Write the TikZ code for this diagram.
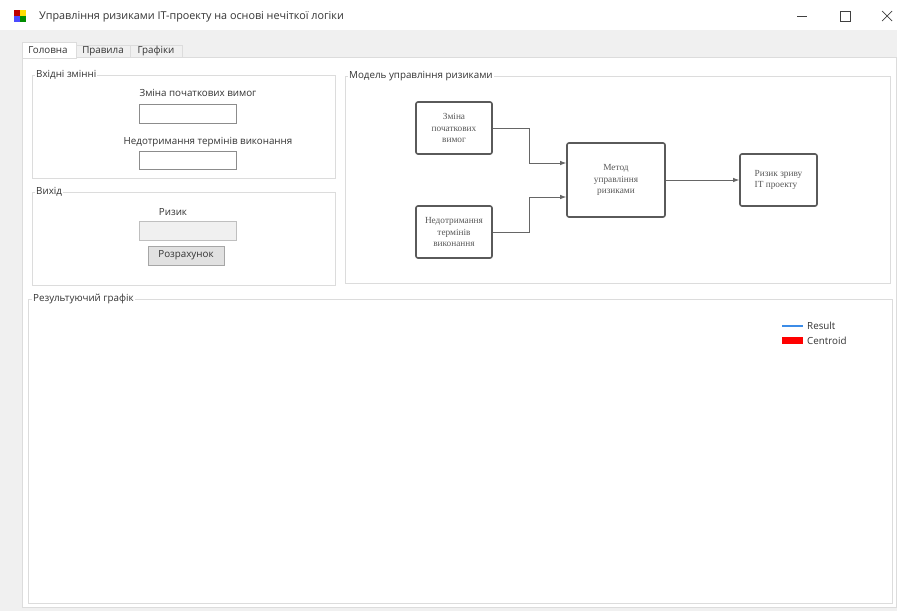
\documentclass[tikz,border=0pt]{standalone}
\usepackage{fontspec}
\setmainfont{Open Sans}
\newfontfamily\serifbox{Liberation Serif}
\usetikzlibrary{arrows.meta,calc}
\definecolor{formgray}{HTML}{F0F0F0}
\definecolor{framegray}{HTML}{DCDCDC}
\definecolor{boxline}{HTML}{5A5A5A}
\definecolor{resblue}{HTML}{3C8CE7}
\definecolor{btngray}{HTML}{E1E1E1}

\begin{document}
\begin{tikzpicture}[x=1pt, y=-1pt,
        ui/.style={font=\fontsize{9.8}{11}\selectfont, text=black!80, inner sep=0pt},
        grouplabel/.style={ui, fill=white, inner sep=1pt, anchor=west},
        groupframe/.style={draw=framegray, line width=0.8pt},
        tabhead/.style={draw=framegray, line width=0.6pt},
        textbox/.style={draw=black!45, fill=white, minimum width=97pt, minimum height=19pt, inner sep=0pt},
        block/.style={draw=boxline, line width=1.6pt, rounded corners=2pt, fill=white, align=center,
            text=black!65, font=\serifbox\fontsize{9.3}{11.5}\selectfont, inner sep=0pt},
        conn/.style={draw=black!60, line width=0.9pt, -{Latex[length=6pt,width=4.5pt]}},
        wctl/.style={draw=black!75, line width=0.7pt},
    ]
    \useasboundingbox (0,0) rectangle (897,611);
    \fill[white] (0,0) rectangle (897,30);
    \fill[formgray] (0,30) rectangle (897,611);

    % title bar
    \fill[red!75!black] (14,10) rectangle (20,16);
    \fill[yellow!80!orange] (20,10) rectangle (26,16);
    \fill[blue!70] (14,16) rectangle (20,22);
    \fill[green!55!black] (20,16) rectangle (26,22);
    \node[ui, font=\fontsize{10.8}{12}\selectfont, anchor=west] (title) at (39,17)
        {Управління ризиками IT-проекту на основі нечіткої логіки};
    \draw[wctl] (797,16) -- (807,16);
    \draw[wctl] (840,11) rectangle (850,21);
    \draw[wctl] (882,11) -- (892,21) (882,21) -- (892,11);

    % tabs
    \filldraw[fill=white, draw=framegray] (22,57) rectangle (896,607);
    \filldraw[tabhead, fill=formgray] (76,45) rectangle (130,57);
    \filldraw[tabhead, fill=formgray] (130,45) rectangle (182,57);
    \filldraw[tabhead, fill=white] (22,42) -- (22,58) -- (76,58) -- (76,42) -- cycle;
    \node[ui] (tmain) at (48,50) {Головна};
    \node[ui] (trules) at (103,51) {Правила};
    \node[ui] (tplots) at (156,51) {Графіки};

    % input variables
    \draw[groupframe] (32,75) rectangle (335,178);
    \node[grouplabel] (ginp) at (35,75) {Вхідні змінні};
    \node[ui] (lchange) at (198,93) {Зміна початкових вимог};
    \node[textbox] (tbchange) at (187.5,113.5) {};
    \node[ui] (ldeadl) at (208,142) {Недотримання термінів виконання};
    \node[textbox, minimum height=18pt] (tbdeadl) at (187.5,160) {};

    % output
    \draw[groupframe] (32,192) rectangle (335,285);
    \node[grouplabel] (gout) at (35,192) {Вихід};
    \node[ui] (lrisk) at (173,212) {Ризик};
    \node[textbox, fill=formgray, draw=black!25] (tbrisk) at (187.5,230.5) {};
    \node[ui, draw=black!35, fill=btngray, minimum width=76pt, minimum height=19pt] (bcalc) at (186,255.5) {Розрахунок};

    % model
    \draw[groupframe] (345,76) rectangle (890,283);
    \node[grouplabel] (gmodel) at (348,76) {Модель управління ризиками};
    \node[block, minimum width=76pt, minimum height=52pt] (zmina) at (454,128) {Зміна\\початкових\\вимог};
    \node[block, minimum width=76pt, minimum height=52pt] (nedot) at (454,232) {Недотримання\\термінів\\виконання};
    \node[block, minimum width=98pt, minimum height=74pt] (metod) at (616,180) {Метод\\управління\\ризиками};
    \node[block, minimum width=77pt, minimum height=52pt, align=left] (ryzyk) at (778.5,180) {Ризик зриву\\IT проекту};
    \draw[conn] (zmina.east) -- ++(37,0) |- ($(metod.west)+(0,-17)$);
    \draw[conn] (nedot.east) -- ++(37,0) |- ($(metod.west)+(0,17)$);
    \draw[conn] (metod.east) -- (ryzyk.west);

    % result plot
    \draw[groupframe] (28,299) rectangle (892,603);
    \node[grouplabel] (gplot) at (32,299) {Результуючий графік};
    \coordinate (lg) at (782,326);
    \draw[resblue, line width=2.2pt] (lg) -- ++(21,0);
    \node[ui, anchor=west] (lres) at (807,326) {Result};
    \fill[red] (782,337) rectangle (803,344);
    \node[ui, anchor=west] (lcen) at (807,341) {Centroid};
\end{tikzpicture}
\end{document}
